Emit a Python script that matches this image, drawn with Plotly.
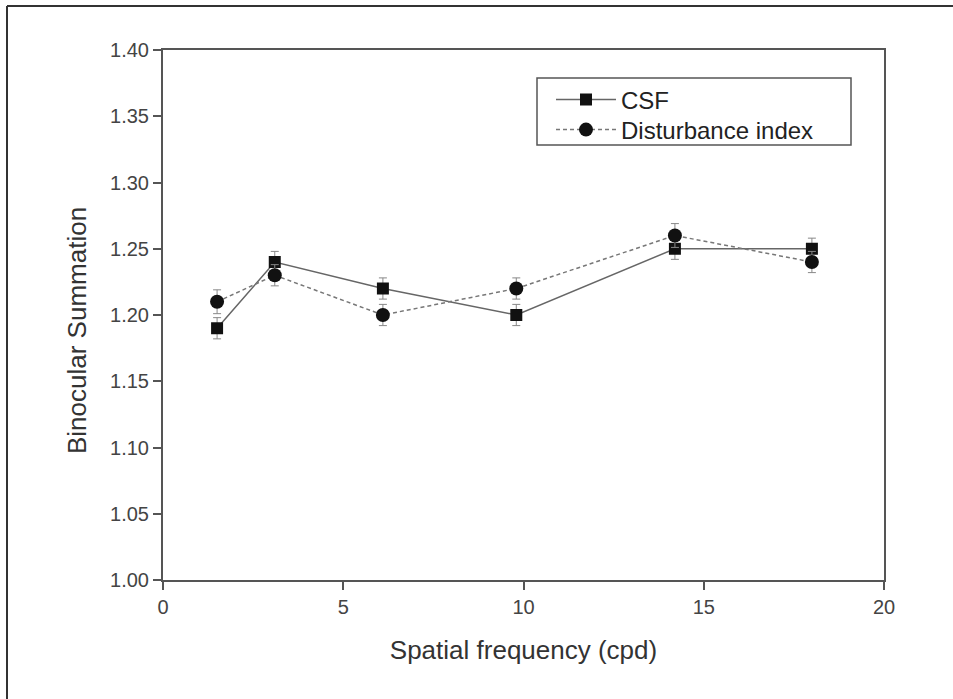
import plotly.graph_objects as go

freq = [1.5, 3.1, 6.1, 9.8, 14.2, 18.0]
csf = [1.19, 1.24, 1.22, 1.20, 1.25, 1.25]
csf_err = [0.008, 0.008, 0.008, 0.008, 0.008, 0.008]
dist = [1.21, 1.23, 1.20, 1.22, 1.26, 1.24]
dist_err = [0.009, 0.008, 0.008, 0.008, 0.009, 0.008]

L, R, T, B = 163, 69, 50, 119
W, H = 953, 699
pw, ph = W - L - R, H - T - B

def px(x):
    return (x - L) / pw

def py(y):
    return (H - B - y) / ph

fig = go.Figure()
fig.add_trace(go.Scatter(
    x=freq, y=csf, name="CSF", mode="lines+markers", legend="legend",
    line=dict(color="#666666", width=1.5),
    marker=dict(symbol="square", size=12, color="#111111"),
    error_y=dict(type="data", array=csf_err, color="#888888", thickness=1, width=4),
))
fig.add_trace(go.Scatter(
    x=freq, y=dist, name="Disturbance index", mode="lines+markers", legend="legend2",
    line=dict(color="#777777", width=1.5, dash="4px,3px"),
    marker=dict(symbol="circle", size=14, color="#111111"),
    error_y=dict(type="data", array=dist_err, color="#888888", thickness=1, width=4),
))

font = "Liberation Sans, Arial, sans-serif"
leg_common = dict(xanchor="left", yanchor="middle", borderwidth=0,
                  bgcolor="rgba(0,0,0,0)", font=dict(size=24, color="#222222"),
                  itemwidth=60)
fig.update_layout(
    width=W, height=H,
    margin=dict(l=L, r=R, t=T, b=B),
    paper_bgcolor="white", plot_bgcolor="white",
    font=dict(family=font, color="#333333"),
    xaxis=dict(range=[0, 20], tickvals=[0, 5, 10, 15, 20], ticks="outside", ticklen=8,
               tickwidth=2, tickcolor="#555555", showline=True, linecolor="#555555",
               linewidth=2, mirror=True, showgrid=False, zeroline=False,
               tickfont=dict(size=20, color="#444444"),
               title=dict(text="Spatial frequency (cpd)", font=dict(size=26, color="#333333"), standoff=24)),
    yaxis=dict(range=[1.0, 1.4], dtick=0.05, tickformat=".2f", ticks="outside", ticklen=8,
               tickwidth=2, tickcolor="#555555", showline=True, linecolor="#555555",
               linewidth=2, mirror=True, showgrid=False, zeroline=False,
               tickfont=dict(size=20, color="#444444")),
    legend=dict(x=px(551), y=py(100), **leg_common),
    legend2=dict(x=px(551), y=py(130), **leg_common),
    showlegend=True,
)

fig.add_annotation(text="Binocular Summation", xref="paper", yref="paper",
                   x=px(77), y=py(331), xanchor="center", yanchor="middle",
                   textangle=-90, showarrow=False,
                   font=dict(size=26, color="#333333", family=font))

fig.add_shape(type="rect", xref="paper", yref="paper",
              x0=px(537), x1=px(851), y0=py(145), y1=py(78),
              line=dict(color="#555555", width=1.5), fillcolor="white", layer="below")
fig.add_shape(type="line", xref="paper", yref="paper",
              x0=px(7), x1=px(W + 5), y0=py(6), y1=py(6),
              line=dict(color="#333333", width=2))
fig.add_shape(type="line", xref="paper", yref="paper",
              x0=px(7), x1=px(7), y0=py(6), y1=py(H + 5),
              line=dict(color="#333333", width=2))

fig.write_html("out.html")
